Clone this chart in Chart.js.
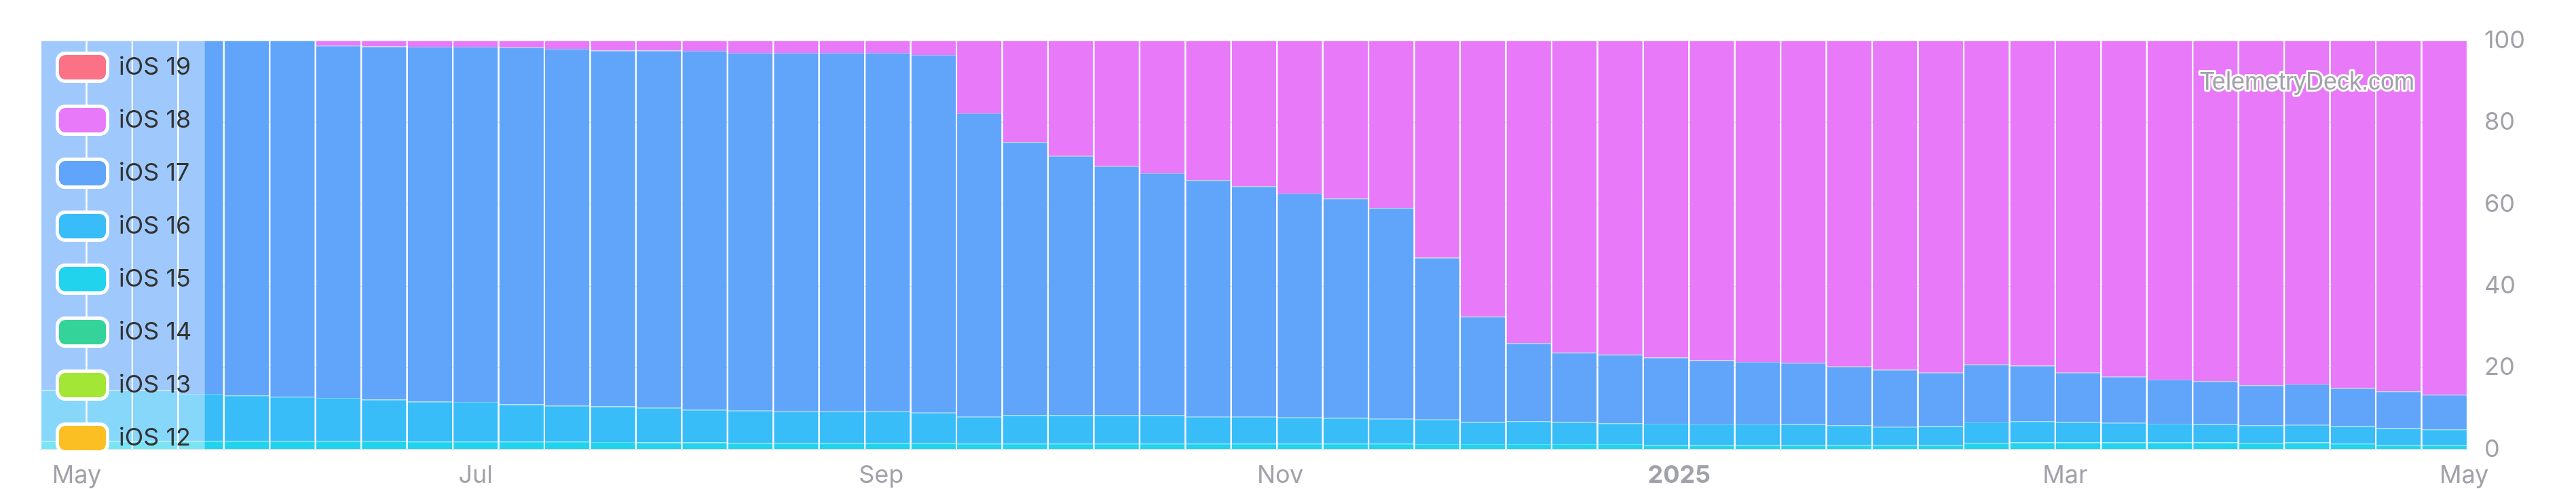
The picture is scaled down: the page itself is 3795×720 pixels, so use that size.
<!DOCTYPE html>
<html>
<head>
<meta charset="utf-8">
<script src="https://cdn.jsdelivr.net/npm/chart.js@4.4.1/dist/chart.umd.min.js"></script>
<style>
  html, body { margin: 0; padding: 0; background: #fff; }
  #wrap { width: 3795px; height: 720px; }
</style>
</head>
<body>
<div id="wrap"><canvas id="myChart"></canvas></div>
<script>
// weekly buckets (Mondays)
const weeks = [
  "2024-04-29", "2024-05-06", "2024-05-13", "2024-05-20", "2024-05-27",
  "2024-06-03", "2024-06-10", "2024-06-17", "2024-06-24", "2024-07-01",
  "2024-07-08", "2024-07-15", "2024-07-22", "2024-07-29", "2024-08-05",
  "2024-08-12", "2024-08-19", "2024-08-26", "2024-09-02", "2024-09-09",
  "2024-09-16", "2024-09-23", "2024-09-30", "2024-10-07", "2024-10-14",
  "2024-10-21", "2024-10-28", "2024-11-04", "2024-11-11", "2024-11-18",
  "2024-11-25", "2024-12-02", "2024-12-09", "2024-12-16", "2024-12-23",
  "2024-12-30", "2025-01-06", "2025-01-13", "2025-01-20", "2025-01-27",
  "2025-02-03", "2025-02-10", "2025-02-17", "2025-02-24", "2025-03-03",
  "2025-03-10", "2025-03-17", "2025-03-24", "2025-03-31", "2025-04-07",
  "2025-04-14", "2025-04-21", "2025-04-28"
];

// share of devices in percent
const ios18 = [
  0, 0, 0, 0, 0, 0, 1.2, 1.4, 1.5, 1.5,
  1.6, 2.0, 2.4, 2.4, 2.5, 3.0, 3.0, 3.0, 3.0, 3.5,
  17.8, 24.8, 28.2, 30.7, 32.4, 34.1, 35.6, 37.4, 38.6, 40.9,
  53.1, 67.5, 74.0, 76.3, 76.8, 77.5, 78.2, 78.6, 78.8, 79.7,
  80.5, 81.2, 79.2, 79.5, 81.2, 82.2, 82.9, 83.3, 84.3, 84.1,
  85.0, 85.8, 86.6
];
const ios17 = [
  85.5, 85.5, 85.5, 86.4, 86.8, 87.1, 86.2, 86.4, 86.8, 86.9,
  87.4, 87.3, 87.1, 87.4, 87.8, 87.5, 87.7, 87.7, 87.7, 87.5,
  74.2, 66.8, 63.4, 60.9, 59.2, 57.9, 56.4, 54.8, 53.7, 51.6,
  39.6, 25.8, 19.1, 17.0, 16.8, 16.2, 15.7, 15.3, 15.0, 14.4,
  14.0, 13.1, 14.2, 13.6, 12.1, 11.3, 10.8, 10.5, 9.8, 9.9,
  9.3, 9.0, 8.5
];
const ios16 = [
  12.4, 12.4, 12.4, 11.5, 11.1, 10.9, 10.6, 10.2, 9.8, 9.7,
  9.1, 8.8, 8.7, 8.5, 8.0, 7.9, 7.7, 7.7, 7.7, 7.4,
  6.6, 7.0, 7.0, 7.0, 7.0, 6.6, 6.6, 6.4, 6.3, 6.1,
  6.0, 5.4, 5.6, 5.4, 5.1, 5.2, 5.0, 5.0, 5.1, 4.8,
  4.5, 4.6, 5.0, 5.2, 5.0, 4.8, 4.6, 4.5, 4.3, 4.3,
  4.3, 4.1, 3.8
];
const ios15 = [
  2.1, 2.1, 2.1, 2.1, 2.1, 2.0, 2.0, 2.0, 1.9, 1.9,
  1.9, 1.9, 1.8, 1.7, 1.7, 1.6, 1.6, 1.6, 1.6, 1.6,
  1.4, 1.4, 1.4, 1.4, 1.4, 1.4, 1.4, 1.4, 1.4, 1.4,
  1.3, 1.3, 1.3, 1.3, 1.3, 1.1, 1.1, 1.1, 1.1, 1.1,
  1.0, 1.1, 1.6, 1.7, 1.7, 1.7, 1.7, 1.7, 1.6, 1.7,
  1.4, 1.1, 1.1
];
// no visible share
const ios19 = [];
const ios14 = [];
const ios13 = [];
const ios12 = [];

const tickDates = ["2024-05-01", "2024-07-01", "2024-09-01", "2024-11-01", "2025-01-01", "2025-03-01", "2025-05-01"];
const tickLabels = ["May", "Jul", "Sep", "Nov", "2025", "Mar", "May"];
const yearTicks = ["2025"];
const partialUntil = "2024-05-20T14:00:00Z";

const origin = Date.parse("2024-05-01");
const dayOf = (d) => (Date.parse(d) - origin) / 86400000;

function tint(hex, amt) {
  const n = parseInt(hex.slice(1), 16);
  const r = n >> 16, g = (n >> 8) & 255, b = n & 255;
  const m = (c) => Math.round(c + (255 - c) * amt);
  return "rgb(" + m(r) + "," + m(g) + "," + m(b) + ")";
}

function series(label, values, color) {
  return {
    label: label,
    data: values.map((v, i) => ({ x: dayOf(weeks[i]), y: v })),
    backgroundColor: color,
    borderColor: tint(color, 0.3),
    borderWidth: { top: 1, left: 0, right: 0, bottom: 0 },
    borderSkipped: "start",
    categoryPercentage: 1,
    barPercentage: 0.97,
  };
}

const shadePlugin = {
  id: "partialShade",
  afterDatasetsDraw: (chart) => {
    const { ctx, chartArea } = chart;
    const x1 = chart.scales.x.getPixelForValue(dayOf(partialUntil));
    ctx.save();
    ctx.fillStyle = "rgba(255, 255, 255, 0.4)";
    ctx.fillRect(chartArea.left, chartArea.top, x1 - chartArea.left, chartArea.bottom - chartArea.top);

    // watermark
    ctx.font = "36px 'Liberation Sans', Arial, sans-serif";
    ctx.textAlign = "right";
    ctx.textBaseline = "alphabetic";
    ctx.lineJoin = "round";
    ctx.lineWidth = 6;
    ctx.strokeStyle = "#ffffff";
    ctx.strokeText("TelemetryDeck.com", chartArea.right - 78, chartArea.top + 72);
    ctx.fillStyle = "#a1a1aa";
    ctx.fillText("TelemetryDeck.com", chartArea.right - 78, chartArea.top + 72);
    ctx.restore();
  },
};

const legendPlugin = {
  id: "insideLegend",
  afterDraw: (chart) => {
    const { ctx, chartArea } = chart;
    const items = chart.data.datasets.slice().reverse();
    const x = chartArea.left + 22;
    ctx.save();
    items.forEach((ds, i) => {
      const cy = chartArea.top + 39 + i * 78;
      ctx.fillStyle = "#ffffff";
      ctx.beginPath();
      ctx.roundRect(x, cy - 23, 79, 46, 14);
      ctx.fill();
      ctx.fillStyle = ds.backgroundColor;
      ctx.beginPath();
      ctx.roundRect(x + 5, cy - 18, 69, 36, 9);
      ctx.fill();
      ctx.fillStyle = "#333333";
      ctx.font = "36px Inter, sans-serif";
      ctx.textAlign = "left";
      ctx.textBaseline = "alphabetic";
      ctx.fillText(ds.label, x + 93, cy + 11);
    });
    ctx.restore();
  },
};

const ctx = document.getElementById("myChart").getContext("2d");
const firstDay = dayOf(weeks[0]) - 3.5;
const lastDay = dayOf(weeks[weeks.length - 1]) + 3.5;

new Chart(ctx, {
  type: "bar",
  data: {
    datasets: [
      series("iOS 12", ios12, "#fbbf24"),
      series("iOS 13", ios13, "#a3e635"),
      series("iOS 14", ios14, "#34d399"),
      series("iOS 15", ios15, "#22d3ee"),
      series("iOS 16", ios16, "#38bdf8"),
      series("iOS 17", ios17, "#60a5fa"),
      series("iOS 18", ios18, "#e879f9"),
      series("iOS 19", ios19, "#fb7185"),
    ],
  },
  options: {
    responsive: true,
    maintainAspectRatio: false,
    animation: false,
    layout: {
      padding: { left: 60, top: 60, right: 50, bottom: -19 },
    },
    plugins: {
      legend: { display: false },
      tooltip: { enabled: false },
    },
    scales: {
      x: {
        type: "linear",
        stacked: true,
        offset: false,
        min: firstDay,
        max: lastDay,
        afterBuildTicks: (scale) => {
          scale.ticks = tickDates.map((d, i) => ({
            value: dayOf(d),
            major: yearTicks.includes(tickLabels[i]),
          }));
        },
        grid: { display: false, drawTicks: false },
        border: { display: true, color: "#e4e4e7", width: 2 },
        ticks: {
          autoSkip: false,
          maxRotation: 0,
          padding: 17,
          color: "#a1a1aa",
          font: (c) => ({
            family: "Inter",
            size: 36,
            weight: c.tick && c.tick.major ? "bold" : "normal",
          }),
          callback: (value, index) => tickLabels[index],
        },
      },
      y: {
        position: "right",
        stacked: true,
        min: 0,
        max: 100,
        grid: { color: "#e4e4e7", drawTicks: false },
        border: { display: false },
        ticks: {
          stepSize: 20,
          padding: 25,
          color: "#a1a1aa",
          font: { family: "Inter", size: 36 },
        },
      },
    },
  },
  plugins: [shadePlugin, legendPlugin],
});
</script>
</body>
</html>
